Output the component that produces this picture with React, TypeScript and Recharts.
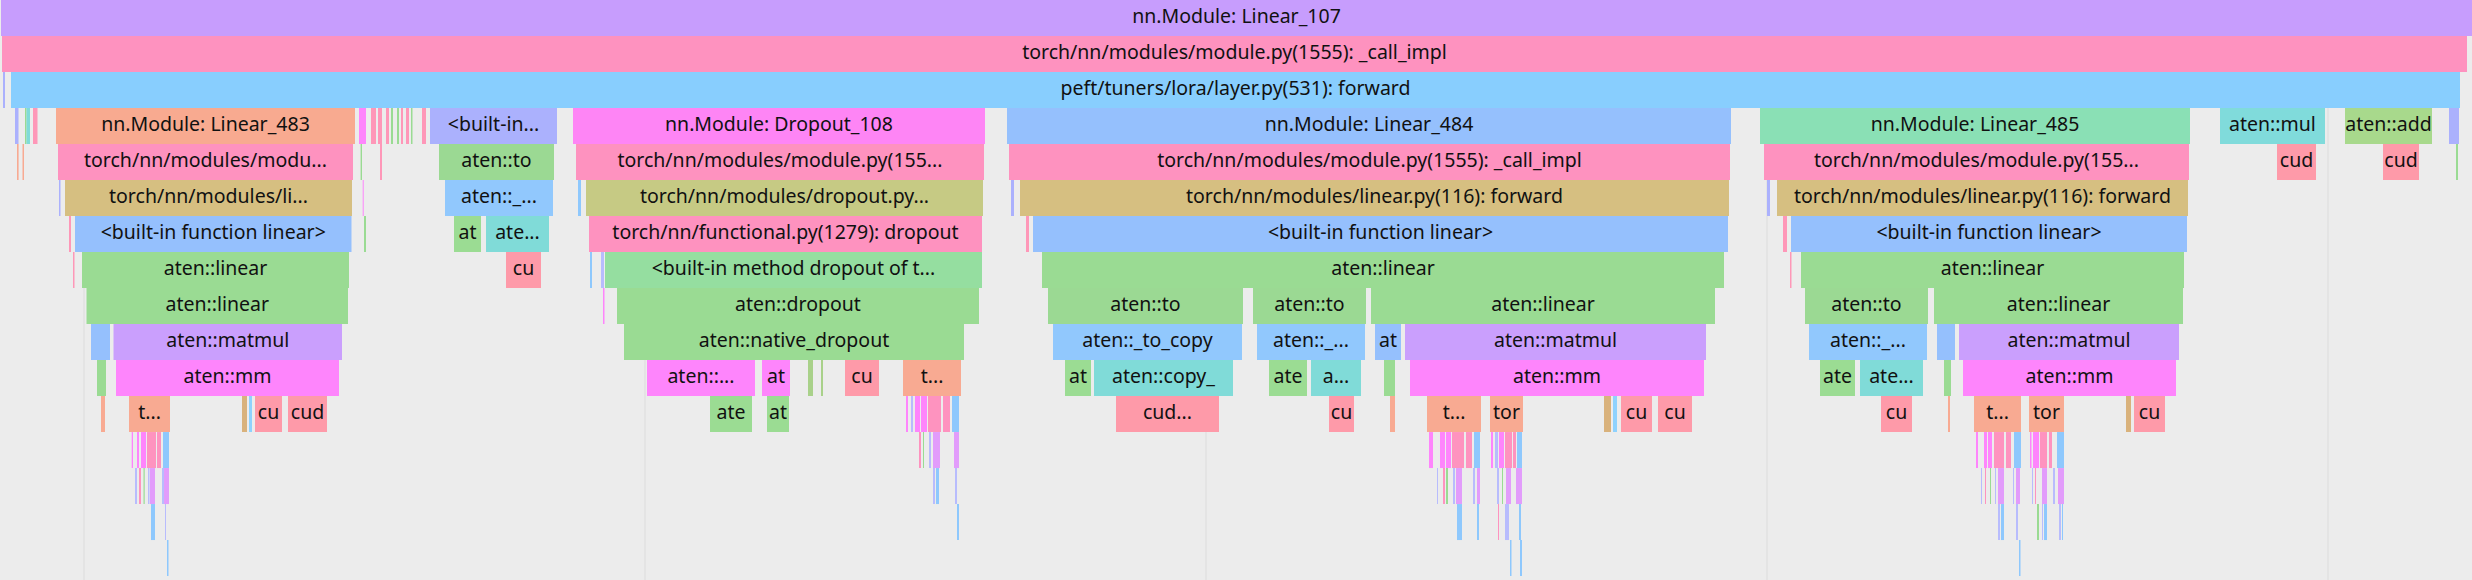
import React from 'react';
import { ComposedChart, XAxis, YAxis, CartesianGrid, ReferenceArea } from 'recharts';

// flame graph of one profiled step, time in ms, one row per stack depth
type Frame = [number, number, string, string?];

const CALL = 'torch/nn/modules/module.py(1555): _call_impl';
const LINFWD = 'torch/nn/modules/linear.py(116): forward';
const BLINEAR = '<built-in function linear>';
const GEMM = 'torch::cuda::blas::gemm';
const CUDA = 'cudaLaunchKernel';

const GRID_TICKS = [1.68, 12.9, 24.12, 35.34, 46.56];
const X_DOMAIN: [number, number] = [0, 49.44];
const ROWS = 16.11;

const depth0: Frame[] = [[0.02, 49.44, 'nn.Module: Linear_107', 'nn.Module: Linear_107']];

const depth1: Frame[] = [[0.04, 49.34, CALL, CALL]];

const depth2: Frame[] = [
  [0.06, 0.1, 'aten::detach'],
  [0.22, 49.2, 'peft/tuners/lora/layer.py(531): forward', 'peft/tuners/lora/layer.py(531): forward'],
];

const depth3: Frame[] = [
  [0.3, 0.37, 'aten::detach'],
  [0.5, 0.53, 'aten::view'],
  [0.53, 0.6, 'aten::reshape'],
  [0.66, 0.75, 'aten::slice'],
  [1.12, 7.1, 'nn.Module: Linear_483', 'nn.Module: Linear_483'],
  [7.18, 7.32, 'aten::empty'],
  [7.42, 7.52, 'aten::slice'],
  [7.56, 7.64, 'aten::slice'],
  [7.72, 7.78, 'aten::slice'],
  [7.82, 7.86, 'aten::view'],
  [7.94, 7.98, 'aten::view'],
  [8.02, 8.06, 'aten::slice'],
  [8.12, 8.18, 'aten::slice'],
  [8.22, 8.25, 'aten::view'],
  [8.44, 8.52, 'aten::slice'],
  [8.6, 11.14, '<built-in method to of Tensor object>', '<built-in...'],
  [11.46, 19.7, 'nn.Module: Dropout_108', 'nn.Module: Dropout_108'],
  [20.14, 34.62, 'nn.Module: Linear_484', 'nn.Module: Linear_484'],
  [35.2, 43.8, 'nn.Module: Linear_485', 'nn.Module: Linear_485'],
  [44.4, 46.5, 'aten::mul', 'aten::mul'],
  [46.9, 48.64, 'aten::add', 'aten::add'],
  [48.98, 49.18, 'aten::detach'],
];

const depth4: Frame[] = [
  [0.34, 0.372, 'aten::as_strided'],
  [0.45, 0.48, 'aten::as_strided'],
  [1.16, 7.06, CALL, 'torch/nn/modules/modu...'],
  [7.212, 7.24, 'aten::view'],
  [7.6, 7.64, 'aten::slice'],
  [8.78, 11.08, 'aten::to', 'aten::to'],
  [11.52, 19.68, CALL, 'torch/nn/modules/module.py(155...'],
  [20.18, 34.6, CALL, CALL],
  [35.28, 43.78, CALL, 'torch/nn/modules/module.py(155...'],
  [45.54, 46.32, CUDA, 'cud'],
  [47.66, 48.38, CUDA, 'cud'],
  [49.12, 49.16, 'aten::view'],
];

const depth5: Frame[] = [
  [1.18, 1.21, 'aten::detach'],
  [1.3, 7.04, LINFWD, 'torch/nn/modules/li...'],
  [7.254, 7.274, 'aten::empty'],
  [8.9, 11.06, 'aten::_to_copy', 'aten::_...'],
  [11.56, 11.62, 'aten::contiguous'],
  [11.72, 19.66, 'torch/nn/modules/dropout.py(59): forward', 'torch/nn/modules/dropout.py...'],
  [20.22, 20.28, 'aten::detach'],
  [20.4, 34.58, LINFWD, LINFWD],
  [35.34, 35.4, 'aten::detach'],
  [35.54, 43.76, LINFWD, LINFWD],
];

const depth6: Frame[] = [
  [1.38, 1.42, 'aten::slice'],
  [1.5, 7.03, BLINEAR, BLINEAR],
  [7.28, 7.32, 'aten::view'],
  [9.08, 9.62, 'aten::empty_strided', 'at'],
  [9.72, 10.98, 'aten::copy_', 'ate...'],
  [11.78, 19.64, 'torch/nn/functional.py(1279): dropout', 'torch/nn/functional.py(1279): dropout'],
  [20.52, 20.58, 'aten::slice'],
  [20.66, 34.56, BLINEAR, BLINEAR],
  [35.66, 35.74, 'aten::slice'],
  [35.82, 43.74, BLINEAR, BLINEAR],
];

const depth7: Frame[] = [
  [1.46, 1.49, 'aten::slice'],
  [1.64, 6.98, 'aten::linear', 'aten::linear'],
  [10.12, 10.82, CUDA, 'cu'],
  [11.8, 11.84, 'aten::contiguous'],
  [12.02, 12.08, 'aten::size'],
  [12.1, 19.64, '<built-in method dropout of type object>', '<built-in method dropout of t...'],
  [20.84, 34.48, 'aten::linear', 'aten::linear'],
  [35.8, 35.83, 'aten::slice'],
  [36.02, 43.68, 'aten::linear', 'aten::linear'],
];

const depth8: Frame[] = [
  [1.73, 6.96, 'aten::linear', 'aten::linear'],
  [12.06, 12.09, 'aten::empty'],
  [12.34, 19.58, 'aten::dropout', 'aten::dropout'],
  [20.96, 24.86, 'aten::to', 'aten::to'],
  [25.06, 27.32, 'aten::to', 'aten::to'],
  [27.42, 34.3, 'aten::linear', 'aten::linear'],
  [36.1, 38.56, 'aten::to', 'aten::to'],
  [38.68, 43.66, 'aten::linear', 'aten::linear'],
];

const depth9: Frame[] = [
  [1.82, 2.2, 'aten::t'],
  [2.27, 6.84, 'aten::matmul', 'aten::matmul'],
  [12.48, 19.28, 'aten::native_dropout', 'aten::native_dropout'],
  [21.06, 24.84, 'aten::_to_copy', 'aten::_to_copy'],
  [25.14, 27.3, 'aten::_to_copy', 'aten::_...'],
  [27.5, 28.02, 'aten::t', 'at'],
  [28.1, 34.12, 'aten::matmul', 'aten::matmul'],
  [36.18, 38.54, 'aten::_to_copy', 'aten::_...'],
  [38.74, 39.1, 'aten::t'],
  [39.18, 43.58, 'aten::matmul', 'aten::matmul'],
];

const depth10: Frame[] = [
  [1.94, 2.12, 'aten::transpose'],
  [2.32, 6.78, 'aten::mm', 'aten::mm'],
  [12.94, 15.1, 'aten::empty_like', 'aten::...'],
  [15.24, 15.8, 'aten::empty', 'at'],
  [16.16, 16.26, 'aten::bernoulli_'],
  [16.42, 16.46, 'aten::bernoulli_'],
  [16.9, 17.58, CUDA, 'cu'],
  [18.06, 19.22, GEMM, 't...'],
  [21.3, 21.82, 'aten::empty_strided', 'at'],
  [21.88, 24.66, 'aten::copy_', 'aten::copy_'],
  [25.38, 26.14, 'aten::empty_strided', 'ate'],
  [26.22, 27.22, 'aten::copy_', 'a...'],
  [27.68, 27.9, 'aten::transpose'],
  [28.2, 34.08, 'aten::mm', 'aten::mm'],
  [36.4, 37.1, 'aten::empty_strided', 'ate'],
  [37.2, 38.46, 'aten::copy_', 'ate...'],
  [38.88, 39.02, 'aten::transpose'],
  [39.26, 43.52, 'aten::mm', 'aten::mm'],
];

const depth11: Frame[] = [
  [2.02, 2.1, 'aten::as_strided'],
  [2.58, 3.4, GEMM, 't...'],
  [4.84, 4.94, 'cudaStreamIsCapturing'],
  [4.98, 5.04, 'cudaGetDevice'],
  [5.1, 5.64, CUDA, 'cu'],
  [5.76, 6.54, CUDA, 'cud'],
  [14.2, 15.04, 'aten::empty_strided', 'ate'],
  [15.34, 15.78, 'aten::empty_strided', 'at'],
  [18.12, 18.16, 'aten::empty'],
  [18.22, 18.26, 'aten::size'],
  [18.3, 18.4, 'aten::empty'],
  [18.42, 18.54, 'aten::empty'],
  [18.56, 18.82, 'aten::resize_'],
  [18.86, 19.0, 'aten::resize_'],
  [19.04, 19.18, 'aten::contiguous'],
  [22.32, 24.38, CUDA, 'cud...'],
  [26.58, 27.08, CUDA, 'cu'],
  [27.8, 27.9, 'aten::as_strided'],
  [28.54, 29.62, GEMM, 't...'],
  [29.8, 30.46, GEMM, 'tor'],
  [32.08, 32.22, 'cudaStreamIsCapturing'],
  [32.26, 32.34, 'cudaGetDevice'],
  [32.42, 33.04, CUDA, 'cu'],
  [33.16, 33.84, CUDA, 'cu'],
  [37.62, 38.24, CUDA, 'cu'],
  [38.96, 39.0, 'aten::as_strided'],
  [39.48, 40.42, GEMM, 't...'],
  [40.58, 41.28, GEMM, 'tor'],
  [42.52, 42.62, 'cudaStreamIsCapturing'],
  [42.68, 43.3, CUDA, 'cu'],
];

const depth12: Frame[] = [
  [2.634, 2.66, 'aten::empty'],
  [2.74, 2.78, 'aten::empty'],
  [2.82, 2.92, 'aten::empty'],
  [2.94, 3.12, 'aten::resize_'],
  [3.14, 3.22, 'aten::resize_'],
  [3.26, 3.38, 'aten::contiguous'],
  [18.38, 18.42, 'aten::resize_'],
  [18.46, 18.48, 'aten::view'],
  [18.58, 18.62, 'aten::size'],
  [18.66, 18.8, 'aten::stride'],
  [19.08, 19.18, 'aten::stride'],
  [28.58, 28.66, 'aten::empty'],
  [28.8, 28.9, 'aten::empty'],
  [28.92, 29.02, 'aten::empty'],
  [29.04, 29.28, 'aten::resize_'],
  [29.32, 29.44, 'aten::resize_'],
  [29.48, 29.6, 'aten::contiguous'],
  [29.82, 29.86, 'aten::empty'],
  [29.9, 29.96, 'aten::size'],
  [29.98, 30.08, 'aten::empty'],
  [30.1, 30.24, 'aten::resize_'],
  [30.26, 30.32, 'aten::resize_'],
  [30.34, 30.44, 'aten::contiguous'],
  [39.52, 39.56, 'aten::empty'],
  [39.68, 39.74, 'aten::empty'],
  [39.76, 39.84, 'aten::empty'],
  [39.88, 40.08, 'aten::resize_'],
  [40.12, 40.22, 'aten::resize_'],
  [40.28, 40.42, 'aten::contiguous'],
  [40.6, 40.63, 'aten::empty'],
  [40.66, 40.78, 'aten::empty'],
  [40.8, 40.94, 'aten::resize_'],
  [40.98, 41.04, 'aten::resize_'],
  [41.14, 41.28, 'aten::contiguous'],
];

const depth13: Frame[] = [
  [2.7, 2.74, 'aten::size'],
  [2.78, 2.82, 'aten::resize_'],
  [2.87, 2.894, 'aten::view'],
  [2.96, 2.99, 'aten::size'],
  [3.0, 3.1, 'aten::stride'],
  [3.24, 3.28, 'aten::size'],
  [3.28, 3.38, 'aten::stride'],
  [18.66, 18.7, 'aten::size'],
  [18.72, 18.78, 'aten::contiguous'],
  [19.1, 19.14, 'aten::size'],
  [28.74, 28.76, 'aten::size'],
  [28.86, 28.9, 'aten::resize_'],
  [28.92, 28.96, 'aten::view'],
  [29.06, 29.1, 'aten::size'],
  [29.12, 29.24, 'aten::stride'],
  [29.46, 29.5, 'aten::size'],
  [29.54, 29.6, 'aten::stride'],
  [29.94, 29.98, 'aten::size'],
  [30.04, 30.06, 'aten::view'],
  [30.12, 30.22, 'aten::stride'],
  [30.32, 30.44, 'aten::stride'],
  [39.62, 39.64, 'aten::size'],
  [39.7, 39.72, 'aten::resize_'],
  [39.8, 39.82, 'aten::view'],
  [39.9, 39.92, 'aten::size'],
  [39.96, 40.08, 'aten::stride'],
  [40.26, 40.28, 'aten::size'],
  [40.32, 40.4, 'aten::stride'],
  [40.64, 40.66, 'aten::size'],
  [40.7, 40.72, 'aten::resize_'],
  [40.84, 40.94, 'aten::stride'],
  [41.06, 41.1, 'aten::size'],
  [41.16, 41.28, 'aten::stride'],
];

const depth14: Frame[] = [
  [3.02, 3.1, 'aten::contiguous'],
  [3.3, 3.32, 'aten::size'],
  [19.14, 19.18, 'aten::contiguous'],
  [29.14, 29.24, 'aten::contiguous'],
  [29.54, 29.58, 'aten::contiguous'],
  [29.96, 29.98, 'aten::resize_'],
  [30.1, 30.18, 'aten::size'],
  [30.38, 30.42, 'aten::contiguous'],
  [39.96, 40.0, 'aten::size'],
  [40.02, 40.08, 'aten::contiguous'],
  [40.32, 40.36, 'aten::size'],
  [40.74, 40.78, 'aten::view'],
  [40.84, 40.86, 'aten::size'],
  [40.88, 40.94, 'aten::contiguous'],
  [41.18, 41.22, 'aten::size'],
  [41.24, 41.26, 'aten::contiguous'],
];

const depth15: Frame[] = [
  [3.34, 3.37, 'aten::contiguous'],
  [30.2, 30.23, 'aten::contiguous'],
  [30.4, 30.44, 'aten::contiguous'],
  [40.38, 40.41, 'aten::contiguous'],
];

const DEPTHS = [depth0, depth1, depth2, depth3, depth4, depth5, depth6, depth7, depth8, depth9, depth10, depth11, depth12, depth13, depth14, depth15];

const COLORS: Record<string, string> = {
  'nn.Module: Linear_107': '#c79dfd',
  [CALL]: '#fe92bf',
  'peft/tuners/lora/layer.py(531): forward': '#88cefe',
  'nn.Module: Linear_483': '#f8aa90',
  [LINFWD]: '#d6bf81',
  [BLINEAR]: '#95c0fd',
  'aten::linear': '#9adb93',
  'aten::matmul': '#ca9ffd',
  'aten::mm': '#fe85fc',
  'aten::t': '#95c0fd',
  'aten::transpose': '#9adb93',
  'aten::as_strided': '#f8aa92',
  [GEMM]: '#f8aa92',
  [CUDA]: '#fe9aa9',
  cudaStreamIsCapturing: '#d9b27c',
  cudaGetDevice: '#8fd2fd',
  '<built-in method to of Tensor object>': '#abb1fd',
  'aten::to': '#9bd993',
  'aten::_to_copy': '#91c8fd',
  'aten::empty_strided': '#9bdc93',
  'aten::copy_': '#80dbd8',
  'nn.Module: Dropout_108': '#fe85f5',
  'torch/nn/modules/dropout.py(59): forward': '#c6ca84',
  'torch/nn/functional.py(1279): dropout': '#fe92bf',
  '<built-in method dropout of type object>': '#95dea0',
  'aten::dropout': '#9adb93',
  'aten::native_dropout': '#9adb93',
  'aten::empty_like': '#fe85fc',
  'aten::empty': '#fe85fc',
  'nn.Module: Linear_484': '#95c0fd',
  'nn.Module: Linear_485': '#8ae0b5',
  'aten::mul': '#80dbdb',
  'aten::add': '#a8d98c',
  'aten::detach': '#abb1fd',
  'aten::view': '#9adb93',
  'aten::reshape': '#80dbd8',
  'aten::slice': '#fe97b8',
  'aten::resize_': '#fe93bf',
  'aten::size': '#b8bcfd',
  'aten::stride': '#e29cfb',
  'aten::contiguous': '#8ec8fd',
  'aten::bernoulli_': '#a9d18a',
};

const frameLabel = (text?: string) => {
  if (!text) return undefined;
  return (props: any) => {
    const vb = props.viewBox;
    if (!vb) return null;
    return (
      <text
        x={vb.x + vb.width / 2}
        y={vb.y + vb.height / 2 + 4.5}
        textAnchor="middle"
        fontSize={19.5}
        fontFamily="'Noto Sans', 'Liberation Sans', sans-serif"
        fill="#111"
      >
        {text}
      </text>
    );
  };
};

export default function App() {
  const frames = DEPTHS.flatMap((row, depth) => row.map((f) => ({ depth, start: f[0], end: f[1], name: f[2], label: f[3] })));
  return (
    <div style={{ width: 2472, height: 580, background: '#ececec' }}>
      <style>{'body{margin:0;background:#ececec}'}</style>
      <ComposedChart width={2472} height={580} margin={{ top: 0, right: 0, bottom: 0, left: 0 }}>
        <CartesianGrid vertical horizontal={false} stroke="#dcdcdc" verticalValues={GRID_TICKS} />
        <XAxis type="number" dataKey="start" domain={X_DOMAIN} ticks={GRID_TICKS} allowDataOverflow hide />
        <YAxis type="number" domain={[0, ROWS]} reversed allowDataOverflow hide />
        {frames.map((f, i) => (
          <ReferenceArea
            key={i}
            x1={f.start}
            x2={f.end}
            y1={f.depth}
            y2={f.depth + 1}
            fill={COLORS[f.name] || '#cccccc'}
            fillOpacity={1}
            stroke="none"
            ifOverflow="visible"
            label={frameLabel(f.label)}
          />
        ))}
      </ComposedChart>
    </div>
  );
}
